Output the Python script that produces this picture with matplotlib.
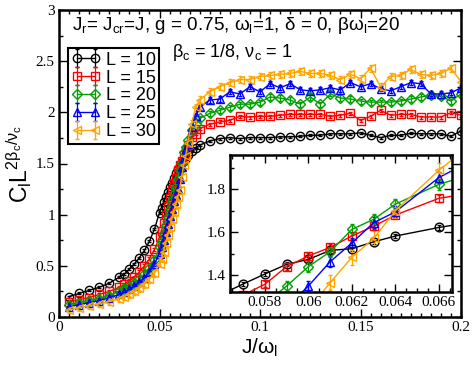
import matplotlib
matplotlib.use("Agg")
import matplotlib.pyplot as plt
from matplotlib.ticker import MultipleLocator

plt.rcParams['font.family'] = ['Liberation Sans', 'DejaVu Sans']
plt.rcParams['mathtext.fontset'] = 'custom'
plt.rcParams['mathtext.rm'] = 'Liberation Sans'
plt.rcParams['mathtext.it'] = 'Liberation Sans'
plt.rcParams['mathtext.default'] = 'regular'

# ---------------- data ----------------
J = [0.005, 0.01, 0.015, 0.02, 0.025, 0.03, 0.0325, 0.035, 0.0375, 0.04, 0.0425, 0.045, 0.0475, 0.05,
     0.051, 0.052, 0.053, 0.054, 0.055, 0.056, 0.057, 0.058, 0.059, 0.060, 0.061, 0.062, 0.063, 0.064,
     0.066, 0.068,
     0.07, 0.075, 0.08, 0.085, 0.09, 0.095, 0.1, 0.105, 0.11, 0.115, 0.12, 0.125, 0.13, 0.135,
     0.14, 0.145, 0.15, 0.155, 0.16, 0.165, 0.17, 0.175, 0.18, 0.185, 0.19, 0.195, 0.2]

L10 = [0.20, 0.23, 0.26, 0.29, 0.33, 0.39, 0.42, 0.47, 0.52, 0.58, 0.65, 0.74, 0.86, 1.02,
       1.07, 1.12, 1.17, 1.22, 1.27, 1.31, 1.358, 1.405, 1.45, 1.473, 1.515, 1.523, 1.555, 1.582,
       1.622, 1.655,
       1.68, 1.72, 1.743, 1.753, 1.743, 1.753, 1.753, 1.753, 1.76, 1.76, 1.766, 1.776, 1.776, 1.79,
       1.79, 1.79, 1.80, 1.775, 1.753, 1.775, 1.775, 1.795, 1.79, 1.79, 1.79, 1.765, 1.82]

L15 = [0.15, 0.17, 0.19, 0.22, 0.25, 0.29, 0.32, 0.355, 0.39, 0.44, 0.50, 0.57, 0.66, 0.78,
       0.84, 0.92, 1.00, 1.08, 1.16, 1.24, 1.307, 1.357, 1.439, 1.489, 1.529, 1.582, 1.628, 1.68,
       1.758, 1.79,
       1.84, 1.883, 1.906, 1.922, 1.961, 1.954, 1.961, 1.961, 1.971, 1.98, 1.98, 1.98, 1.98, 1.96,
       1.971, 1.99, 1.92, 1.961, 2.02, 1.971, 1.98, 1.98, 1.954, 1.954, 1.954, 1.997, 1.971]

L20 = [0.12, 0.14, 0.16, 0.18, 0.21, 0.25, 0.27, 0.30, 0.33, 0.37, 0.42, 0.48, 0.56, 0.68,
       0.74, 0.82, 0.90, 0.98, 1.06, 1.13, 1.20, 1.266, 1.349, 1.439, 1.509, 1.613, 1.66, 1.731,
       1.823, 1.885,
       1.94, 1.99, 2.02, 2.05, 2.08, 2.08, 2.10, 2.15, 2.14, 2.12, 2.08, 2.15, 2.08, 2.18,
       2.14, 2.13, 2.11, 2.10, 2.10, 2.10, 2.11, 2.13, 2.15, 2.17, 2.16, 2.11, 2.18]

L25 = [0.10, 0.12, 0.14, 0.16, 0.19, 0.22, 0.24, 0.27, 0.30, 0.34, 0.38, 0.44, 0.52, 0.62,
       0.68, 0.75, 0.83, 0.91, 0.99, 1.06, 1.13, 1.19, 1.25, 1.349, 1.462, 1.55, 1.644, 1.695,
       1.855, 1.96,
       2.05, 2.12, 2.13, 2.20, 2.18, 2.25, 2.20, 2.28, 2.24, 2.28, 2.22, 2.21, 2.22, 2.24,
       2.22, 2.29, 2.25, 2.28, 2.23, 2.21, 2.25, 2.29, 2.28, 2.18, 2.18, 2.19, 2.24]

L30 = [0.07, 0.09, 0.11, 0.13, 0.15, 0.18, 0.20, 0.22, 0.25, 0.28, 0.32, 0.37, 0.43, 0.52,
       0.57, 0.64, 0.72, 0.80, 0.88, 0.96, 1.03, 1.10, 1.17, 1.24, 1.364, 1.483, 1.571, 1.70,
       1.889, 2.05,
       2.12, 2.20, 2.25, 2.29, 2.32, 2.32, 2.35, 2.36, 2.37, 2.38, 2.40, 2.38, 2.38, 2.36,
       2.32, 2.37, 2.33, 2.43, 2.25, 2.35, 2.36, 2.42, 2.37, 2.36, 2.38, 2.43, 2.30]

labels = ['L = 10', 'L = 15', 'L = 20', 'L = 25', 'L = 30']
series = [L10, L15, L20, L25, L30]
errors = [0.01, 0.015, 0.025, 0.025, 0.035]
colors = ['black', '#ff0000', '#00a000', '#0000ff', '#ffa500']
markers = ['o', 's', 'D', '^', '<']
msizes = [6, 5.5, 5, 6, 6]

main_xticks = [0, 0.05, 0.1, 0.15, 0.2]
main_xticklabels = ['0', '0.05', '0.1', '0.15', '0.2']
main_yticks = [0, 0.5, 1, 1.5, 2, 2.5, 3]
main_yticklabels = ['0', '0.5', '1', '1.5', '2', '2.5', '3']
inset_xticks = [0.058, 0.06, 0.062, 0.064, 0.066]
inset_xticklabels = ['0.058', '0.06', '0.062', '0.064', '0.066']
inset_yticks = [1.4, 1.6, 1.8]
inset_yticklabels = ['1.4', '1.6', '1.8']

# ---------------- figure ----------------
fig = plt.figure(figsize=(4.74, 3.65), dpi=100)
ax = fig.add_axes([59/474, 1-317/365, (461-59)/474, (317-10)/365])

def draw(a, ms_scale=1.0):
    hs = []
    for y, e, c, m, ms, lab in zip(series, errors, colors, markers, msizes, labels):
        h = a.errorbar(J, y, yerr=e, color=c, marker=m, ms=ms*ms_scale, mfc='none', mec=c,
                       mew=1.0, lw=1.0, elinewidth=0.9, capsize=1.6, capthick=0.9, label=lab)
        hs.append(h)
    return hs

hs = draw(ax)

serif = 'Liberation Serif'
ax.set_xlim(0, 0.2)
ax.set_ylim(0, 3)
ax.set_xticks(main_xticks)
ax.set_xticklabels(main_xticklabels, family=serif, fontsize=11)
ax.set_yticks(main_yticks)
ax.set_yticklabels(main_yticklabels, family=serif, fontsize=11)
ax.xaxis.set_minor_locator(MultipleLocator(0.005))
ax.yaxis.set_minor_locator(MultipleLocator(0.25))
ax.tick_params(which='both', direction='in', top=True, right=True, width=1.0)
ax.tick_params(which='major', length=6, pad=3)
ax.tick_params(which='minor', length=3)
for s in ax.spines.values():
    s.set_linewidth(1.8)

ax.set_xlabel(r'J/ω$_l$', fontsize=15, labelpad=2)
ax.set_ylabel(r'C$_l$L$^{2β_c/ν_c}$', fontsize=16.5, labelpad=1)

ax.text(0.032, 0.951, r'J$_r$= J$_{cr}$=J, g = 0.75, ω$_l$=1, δ = 0, βω$_l$=20',
        transform=ax.transAxes, fontsize=13.6, va='center', ha='left')
ax.text(0.281, 0.863, r'β$_c$ = 1/8, ν$_c$ = 1',
        transform=ax.transAxes, fontsize=13, va='center', ha='left')

leg = ax.legend(handles=hs, loc='upper left', bbox_to_anchor=(0.022, 0.876), borderaxespad=0,
                fontsize=13, numpoints=2, handlelength=1.6, handletextpad=0.3, labelspacing=0.05,
                borderpad=0.2, fancybox=False, framealpha=1, edgecolor='black')
leg.get_frame().set_linewidth(1.5)

# ---------------- inset ----------------
ax2 = fig.add_axes([230/474, 1-292/365, (452-230)/474, (292-155)/365])
draw(ax2, 1.05)
ax2.set_xlim(0.0564, 0.0666)
ax2.set_ylim(1.321, 1.96)
ax2.set_xticks(inset_xticks)
ax2.set_xticklabels(inset_xticklabels, family=serif, fontsize=11)
ax2.set_yticks(inset_yticks)
ax2.set_yticklabels(inset_yticklabels, family=serif, fontsize=11)
ax2.xaxis.set_minor_locator(MultipleLocator(0.0005))
ax2.yaxis.set_minor_locator(MultipleLocator(0.1))
ax2.tick_params(which='both', direction='in', top=True, right=True, width=1.0)
ax2.tick_params(which='major', length=6, pad=3)
ax2.tick_params(which='minor', length=3)
for s in ax2.spines.values():
    s.set_linewidth(1.8)

fig.savefig('out.png', dpi=100)
